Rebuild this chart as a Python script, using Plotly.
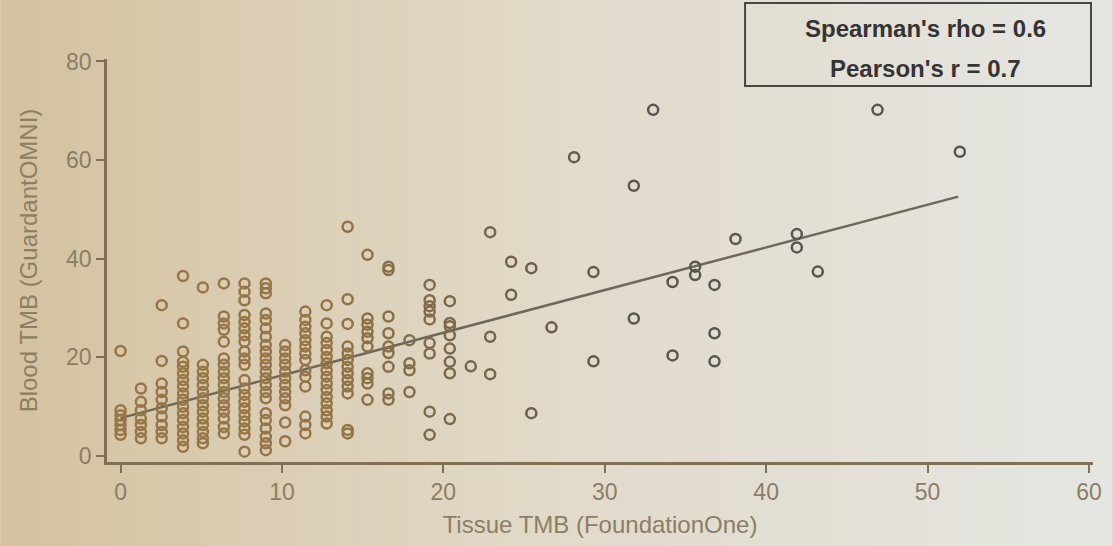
import plotly.graph_objects as go

# ---------------- data ----------------
col_x = [0.0, 1.26, 2.55, 3.87, 5.1, 6.4, 7.68, 9.0, 10.2, 11.45, 12.77, 14.07,
         15.3, 16.6, 17.9, 19.15, 20.4, 21.7, 22.9, 24.2, 25.45, 26.7, 28.1,
         29.3, 31.8, 33.0, 34.2, 35.6, 36.8, 38.1, 41.9, 43.2, 46.9, 52.0]
col_y = [
    [21.3, 9.3, 8.3, 7.3, 6.3, 5.3, 4.3],
    [13.7, 11.0, 9.3, 7.6, 6.3, 4.9, 3.6],
    [30.6, 19.3, 14.7, 13.0, 11.4, 9.7, 8.0, 6.3, 4.9, 3.6],
    [36.5, 26.9, 21.2, 19.1, 18.1, 16.8, 15.4, 14.1, 12.7, 11.4, 10.0, 8.7, 7.3, 5.9, 4.6, 3.2, 1.9],
    [34.2, 18.5, 17.1, 15.8, 14.4, 13.0, 11.7, 10.3, 9.0, 7.6, 6.3, 4.9, 3.6, 2.6],
    [35.0, 28.3, 26.9, 25.6, 23.2, 19.8, 18.5, 17.1, 15.8, 14.4, 13.0, 11.7, 10.3, 9.0, 7.6, 5.9, 4.6],
    [35.0, 33.3, 31.6, 28.6, 27.2, 25.9, 24.5, 23.2, 21.2, 19.8, 18.5, 15.4, 13.7, 12.4, 11.0, 9.7, 8.3, 7.0, 5.6, 4.3, 0.9],
    [35.0, 34.0, 33.0, 28.9, 27.6, 25.9, 24.2, 22.5, 21.2, 19.8, 18.5, 17.1, 15.8, 14.4, 13.0, 11.7, 8.7, 7.3, 5.6, 3.9, 2.6, 1.2],
    [22.5, 21.2, 19.8, 18.5, 17.1, 15.8, 14.4, 13.0, 11.7, 10.3, 6.8, 3.0],
    [29.3, 27.6, 26.2, 24.9, 23.5, 22.2, 20.8, 19.5, 17.4, 16.1, 14.1, 8.0, 6.3, 4.6],
    [30.6, 26.9, 24.2, 22.9, 21.5, 20.1, 18.8, 17.4, 16.1, 14.7, 13.4, 12.0, 10.7, 9.3, 8.0, 6.6],
    [46.5, 31.8, 26.8, 22.2, 20.8, 19.5, 18.1, 16.8, 15.4, 14.1, 12.7, 5.3, 4.6],
    [40.8, 27.9, 26.6, 25.2, 23.9, 22.2, 16.8, 15.8, 14.7, 11.4],
    [38.4, 37.7, 28.3, 24.9, 22.2, 20.9, 18.1, 12.7, 11.4],
    [23.5, 18.8, 17.4, 13.0],
    [34.7, 31.6, 30.4, 29.3, 27.7, 22.9, 20.8, 9.0, 4.3],
    [31.4, 27.0, 26.3, 24.5, 21.8, 19.1, 16.8, 7.5],
    [18.2],
    [45.4, 24.2, 16.6],
    [39.4, 32.7],
    [38.1, 8.7],
    [26.1],
    [60.6],
    [37.3, 19.2],
    [54.8, 27.9],
    [70.2],
    [35.3, 20.4],
    [38.4, 36.7],
    [34.7, 24.9, 19.2],
    [44.0],
    [45.0, 42.3],
    [37.4],
    [70.2],
    [61.7],
]
fit_x = [0.0, 51.9]
fit_y = [7.7, 52.6]

x_ticks = [0, 10, 20, 30, 40, 50, 60]
y_ticks = [0, 20, 40, 60, 80]
stats_lines = ["Spearman's rho = 0.6", "Pearson's r = 0.7"]

# ---------------- build ----------------
xs, ys = [], []
for cx, cy in zip(col_x, col_y):
    for v in cy:
        xs.append(cx)
        ys.append(v)


def mix(c1, c2, t):
    t = max(0.0, min(1.0, t))
    return "rgb(%d,%d,%d)" % tuple(round(a + (b - a) * t) for a, b in zip(c1, c2))


brown = (150, 118, 70)
grey = (88, 86, 80)
pt_colors = [mix(brown, grey, (x - 12) / 20) for x in xs]

fig = go.Figure()

# photographic background: warm left -> neutral grey right
W, H = 1114, 546
ml, mr, mt, mb = 107, 18, 59, 84
pw, ph = W - ml - mr, H - mt - mb
left_c = (212, 194, 160)
mid_c = (226, 218, 202)
right_c = (229, 229, 225)
n = 60
for i in range(n):
    t = i / (n - 1)
    if t < 0.5:
        c = mix(left_c, mid_c, t / 0.5)
    else:
        c = mix(mid_c, right_c, (t - 0.5) / 0.5)
    x0 = (-ml + W * i / n) / pw
    x1 = (-ml + W * (i + 1) / n + 1) / pw
    fig.add_shape(type="rect", xref="paper", yref="paper", x0=x0, x1=x1,
                  y0=-mb / ph, y1=(ph + mt) / ph, fillcolor=c, line_width=0,
                  layer="below")

fig.add_trace(go.Scatter(
    x=fit_x, y=fit_y, mode="lines",
    line=dict(color="rgb(110,104,92)", width=2.5), hoverinfo="skip",
    showlegend=False))

fig.add_trace(go.Scatter(
    x=xs, y=ys, mode="markers",
    marker=dict(symbol="circle-open", size=10, color=pt_colors,
                line=dict(width=2.5, color=pt_colors)),
    showlegend=False))

axis_col = "rgb(128,112,86)"
tick_font = dict(family="Liberation Sans, Arial, sans-serif",
                 size=23, color="rgb(140,126,100)")
title_font = dict(family="Liberation Sans, Arial, sans-serif",
                  size=24, color="rgb(140,126,100)")

fig.update_xaxes(range=[-0.84, 60.25], tickvals=x_ticks,
                 ticktext=[str(v) for v in x_ticks],
                 showgrid=False, zeroline=False, showline=True,
                 linecolor=axis_col, linewidth=2.5, ticks="outside",
                 ticklen=8, tickwidth=2, tickcolor=axis_col,
                 tickfont=tick_font,
                 title=dict(text="Tissue TMB (FoundationOne)", font=title_font,
                            standoff=12))
fig.update_yaxes(range=[-1.2, 80.5], tickvals=y_ticks,
                 ticktext=[str(v) for v in y_ticks],
                 showgrid=False, zeroline=False, showline=True,
                 linecolor=axis_col, linewidth=2.5, ticks="outside",
                 ticklen=8, tickwidth=2, tickcolor=axis_col,
                 tickfont=tick_font,
                 title=dict(text="Blood TMB (GuardantOMNI)", font=title_font,
                            standoff=22))

# statistics box
bx0, bx1, by0, by1 = 747, 1094, 86, 3
fig.add_shape(type="rect", xref="paper", yref="paper",
              x0=(bx0 - ml) / pw, x1=(bx1 - ml) / pw,
              y0=(H - mb - by0) / ph, y1=(H - mb - by1) / ph,
              line=dict(color="rgb(70,70,68)", width=2), fillcolor="rgba(0,0,0,0)")
for line_text, py in zip(stats_lines, [28, 68]):
    fig.add_annotation(xref="paper", yref="paper", x=(928 - ml) / pw,
                       y=(H - mb - py) / ph, xanchor="center", yanchor="middle",
                       showarrow=False, text="<b>" + line_text + "</b>",
                       font=dict(family="Liberation Sans, Arial, sans-serif",
                                 size=24, color="rgb(52,52,52)"))

fig.update_layout(width=W, height=H, margin=dict(l=ml, r=mr, t=mt, b=mb),
                  paper_bgcolor="rgb(224,218,204)", plot_bgcolor="rgba(0,0,0,0)")

fig.write_html("out.html")
